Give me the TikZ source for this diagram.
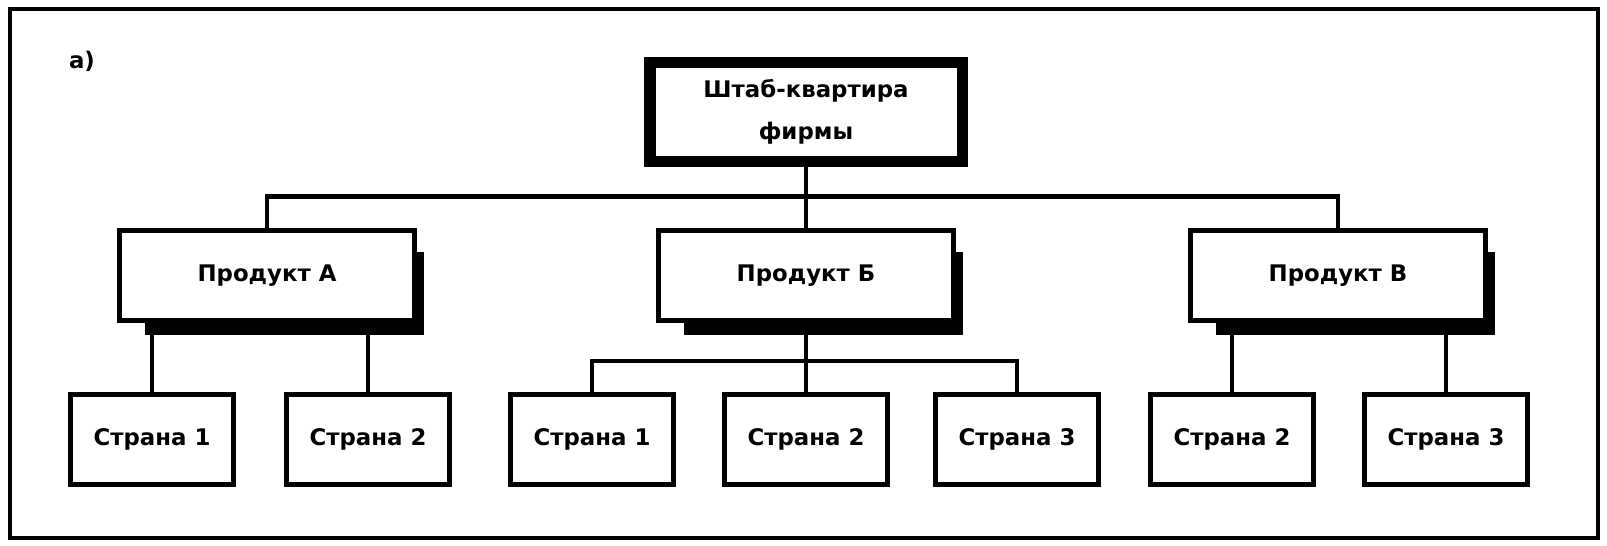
\documentclass[tikz,border=0pt]{standalone}
\usepackage{fontspec}
\setmainfont{DejaVu Sans}
\usepackage{tikz}
\usetikzlibrary{calc}
\tikzset{
  txt/.style={font=\bfseries\fontsize{13}{24}\selectfont},
  hqbox/.style={draw=black, fill=white, line width=6.8pt, minimum width=6.26cm, minimum height=1.98cm, align=center, txt},
  prodbox/.style={draw=black, fill=white, line width=2.8pt, minimum width=5.9cm, minimum height=1.8cm, txt},
  ctrybox/.style={draw=black, fill=white, line width=2.8pt, minimum width=3.26cm, minimum height=1.8cm, txt},
  link/.style={draw=black, line width=2.5pt},
  frameline/.style={draw=black, line width=2.3pt},
}

\begin{document}
\begin{tikzpicture}[x=0.02cm, y=-0.02cm]
  \useasboundingbox (0,0) rectangle (1607,546);
  \fill[white] (0,0) rectangle (1607,546);
  \draw[frameline] (10,9) rectangle (1598,538);
  \node[txt] (lbl) at (82,61) {а)};
  % top level
  \node[hqbox] (hq) at (806,112) {Штаб-квартира\\фирмы};
  \node[prodbox] (pA) at (267,275.5) {Продукт А};
  \node[prodbox] (pB) at (806,275.5) {Продукт Б};
  \node[prodbox] (pV) at (1338,275.5) {Продукт В};
  % countries
  \node[ctrybox] (cA1) at (152,439.5) {Страна 1};
  \node[ctrybox] (cA2) at (368,439.5) {Страна 2};
  \node[ctrybox] (cB1) at (592,439.5) {Страна 1};
  \node[ctrybox] (cB2) at (806,439.5) {Страна 2};
  \node[ctrybox] (cB3) at (1017,439.5) {Страна 3};
  \node[ctrybox] (cV2) at (1232,439.5) {Страна 2};
  \node[ctrybox] (cV3) at (1446,439.5) {Страна 3};
  % shadows of the product boxes
  \foreach \n in {pA,pB,pV} {
    \fill (\n.south west) ++(28,0) rectangle ($(\n.south east)+(7,12)$);
    \fill ($(\n.north east)+(0,24)$) rectangle ($(\n.south east)+(7,12)$);
  }
  % connectors
  \coordinate (busT) at ($(hq.south)+(0,29)$);
  \draw[link] (pA.north) |- (busT) -| (pV.north);
  \draw[link] (hq.south) -- (pB.north);
  \draw[link] (cA1.north) -- (cA1.north |- pA.south);
  \draw[link] (cA2.north) -- (cA2.north |- pA.south);
  \coordinate (busB) at ($(pB.south)+(0,38)$);
  \draw[link] (pB.south) -- (busB) -- (cB2.north);
  \draw[link] (cB1.north) |- (busB) -| (cB3.north);
  \draw[link] (cV2.north) -- (cV2.north |- pV.south);
  \draw[link] (cV3.north) -- (cV3.north |- pV.south);
\end{tikzpicture}
\end{document}
